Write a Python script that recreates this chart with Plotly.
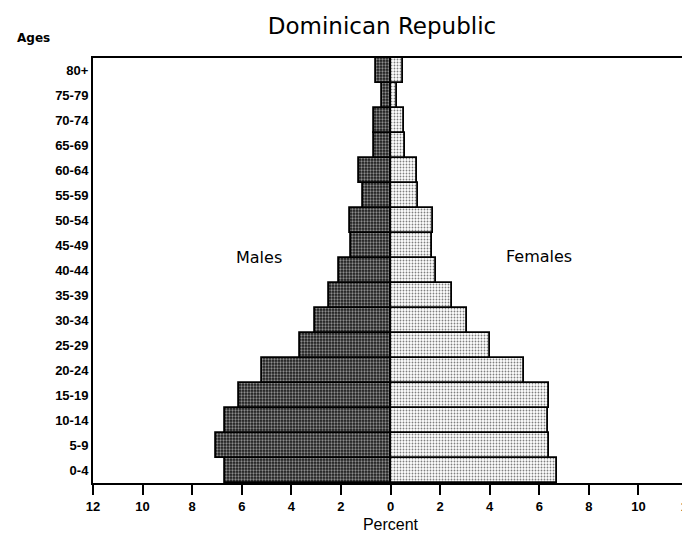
import plotly.graph_objects as go

ages = ["0-4", "5-9", "10-14", "15-19", "20-24", "25-29", "30-34", "35-39",
        "40-44", "45-49", "50-54", "55-59", "60-64", "65-69", "70-74", "75-79", "80+"]
males = [6.68, 7.02, 6.68, 6.10, 5.20, 3.67, 3.06, 2.47, 2.09, 1.59, 1.63,
         1.12, 1.26, 0.66, 0.66, 0.36, 0.60]
females = [6.72, 6.41, 6.37, 6.38, 5.40, 4.01, 3.08, 2.47, 1.85, 1.68, 1.72,
           1.11, 1.08, 0.58, 0.55, 0.27, 0.51]
tick_vals = [-12, -10, -8, -6, -4, -2, 0, 2, 4, 6, 8, 10, 12]
tick_text = ["12", "10", "8", "6", "4", "2", "0", "2", "4", "6", "8", "10", "12"]

FONT = "Liberation Sans, Arial, sans-serif"
WIDE = "DejaVu Sans, Verdana, sans-serif"

# page offset of 8px (browser default body margin) compensated in margins
OFF = 8
W, H = 690, 543
L = 93 - OFF
T = 58 - OFF
R = W - (688 - OFF)
B = H - (483 - OFF)
PW, PH = W - L - R, H - T - B


def px_x(page_x):
    return (page_x - OFF - L) / PW


def px_y(page_y):
    return (H - B - (page_y - OFF)) / PH


fig = go.Figure()
fig.add_trace(go.Bar(
    y=ages, x=[-v for v in males], orientation="h", name="Males",
    marker=dict(color="white", line=dict(color="black", width=1.8),
                pattern=dict(shape=".", fgcolor="#ffffff", bgcolor="#1a1a1a",
                             size=3, solidity=0.45)),
    width=1.0,
))
fig.add_trace(go.Bar(
    y=ages, x=females, orientation="h", name="Females",
    marker=dict(color="white", line=dict(color="black", width=1.8),
                pattern=dict(shape=".", fgcolor="#000000", bgcolor="#ffffff",
                             size=3, solidity=0.3)),
    width=1.0,
))

fig.update_layout(
    width=W, height=H,
    margin=dict(l=L, r=R, t=T, b=B),
    paper_bgcolor="white", plot_bgcolor="white",
    barmode="overlay", bargap=0, showlegend=False,
    font=dict(family=FONT, color="black"),
    title=dict(text="Dominican Republic", x=(382 - OFF) / W, xanchor="center",
               y=1 - (26 - OFF) / H, yanchor="middle",
               font=dict(family=WIDE, size=23, color="black")),
    xaxis=dict(range=[-12, 12], tickvals=tick_vals, ticktext=tick_text,
               automargin=False,
               showgrid=False, zeroline=False, showline=True, linecolor="black",
               linewidth=2, mirror=True, ticks="outside", ticklen=10,
               tickwidth=2, tickcolor="black",
               tickfont=dict(family=FONT, size=13, color="black", weight="bold"),
               title=dict(text="Percent", standoff=6,
                          font=dict(family=FONT, size=16, color="black"))),
    yaxis=dict(showgrid=False, zeroline=False, showline=True, linecolor="black",
               automargin=False,
               linewidth=2, mirror=True, ticks="", range=[-0.5, 16.5],
               tickfont=dict(family=FONT, size=13, color="black", weight="bold")),
    annotations=[
        dict(text="Ages", x=px_x(15), y=px_y(38), xref="paper", yref="paper",
             xanchor="left", yanchor="middle", showarrow=False,
             font=dict(family=WIDE, size=12, color="black", weight="bold")),
        dict(text="Males", x=-5.3, y=px_y(257), xref="x", yref="paper",
             showarrow=False, font=dict(family=WIDE, size=16, color="black")),
        dict(text="Females", x=6.0, y=px_y(256), xref="x", yref="paper",
             showarrow=False, font=dict(family=WIDE, size=16, color="black")),
    ],
)

fig.write_html("out.html")
